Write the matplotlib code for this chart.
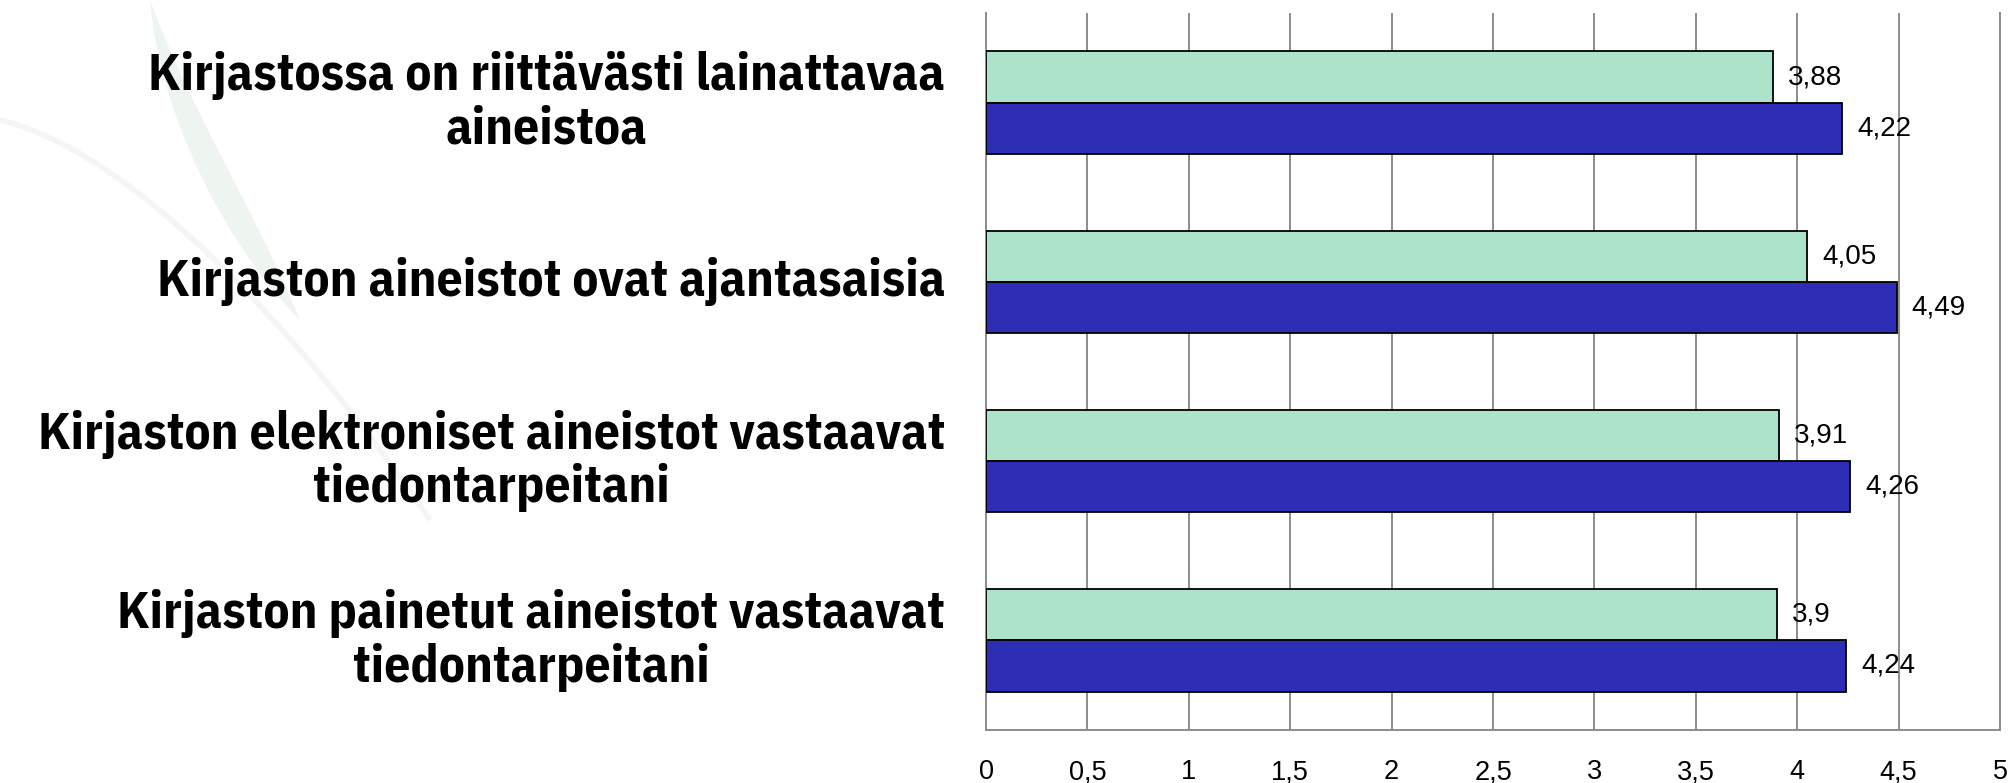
import matplotlib
matplotlib.use("Agg")
import matplotlib.pyplot as plt
from matplotlib import font_manager as fm
from matplotlib.patches import PathPatch
from matplotlib.path import Path
from matplotlib.textpath import TextPath
import numpy as np

categories = [
    "Kirjastossa on riittävästi lainattavaa\naineistoa",
    "Kirjaston aineistot ovat ajantasaisia",
    "Kirjaston elektroniset aineistot vastaavat\ntiedontarpeitani",
    "Kirjaston painetut aineistot vastaavat\ntiedontarpeitani",
]
series_green = [3.88, 4.05, 3.91, 3.90]
series_blue = [4.22, 4.49, 4.26, 4.24]
xticks = [0, 0.5, 1, 1.5, 2, 2.5, 3, 3.5, 4, 4.5, 5]

W, H, DPI = 2011, 783, 100

# choose a condensed bold face whose proportions best match the reference
# (cap height ~35 px, widest line ~936 px)
TARGET_CAP, TARGET_W = 36.0, 936.0
longest = "Kirjaston elektroniset aineistot vastaavat"
candidates = ["Roboto Condensed", "Barlow Semi Condensed", "Fira Sans Condensed",
              "IBM Plex Sans Condensed", "Asap Condensed", "Encode Sans Semi Condensed",
              "Encode Sans Condensed", "Open Sans Condensed"]
best = None
for fam in candidates:
    try:
        fp = fm.FontProperties(family=fam, weight="bold")
        path = fm.findfont(fp, fallback_to_default=False)
    except Exception:
        continue
    if "Bold" not in path.split("/")[-1]:
        continue
    try:
        cap = TextPath((0, 0), "H", size=100, prop=fp).get_extents().height
        wid = TextPath((0, 0), longest, size=100, prop=fp).get_extents().width
    except Exception:
        continue
    size_px = TARGET_CAP / cap * 100
    width_px = wid * size_px / 100
    err = abs(width_px - TARGET_W)
    if best is None or err < best[0]:
        best = (err, fam, size_px)

if best is None:
    label_family, label_px = "Liberation Sans", 49.0
else:
    _, label_family, label_px = best
label_pt = label_px * 72 / DPI

plt.rcParams["font.family"] = ["Liberation Sans", "DejaVu Sans"]

fig = plt.figure(figsize=(W / DPI, H / DPI), dpi=DPI)

# very faint leaf watermark in the background
bg = fig.add_axes([0, 0, 1, 1], zorder=-5)
bg.set_xlim(0, W)
bg.set_ylim(H, 0)
bg.axis("off")
leaf = Path([(150, 0), (190, 110), (260, 220), (300, 320), (230, 250), (160, 120), (150, 0)],
            [Path.MOVETO, Path.CURVE4, Path.CURVE4, Path.CURVE4, Path.CURVE4, Path.CURVE4, Path.CURVE4])
bg.add_patch(PathPatch(leaf, facecolor="#EEF4EF", edgecolor="none"))
stem = Path([(0, 120), (130, 150), (300, 330), (430, 520)],
            [Path.MOVETO, Path.CURVE4, Path.CURVE4, Path.CURVE4])
bg.add_patch(PathPatch(stem, facecolor="none", edgecolor="#F4F6F4", linewidth=4))

ax = fig.add_axes([986 / W, 1 - 730 / H, (2000 - 986) / W, (730 - 13) / H])
ax.patch.set_alpha(0)

y = np.arange(len(categories))
h = 0.2857
green = "#ACE3CA"
blue = "#2E2DB5"
b1 = ax.barh(y - h / 2, series_green, height=h, color=green, edgecolor="black", linewidth=1.3, zorder=3)
b2 = ax.barh(y + h / 2, series_blue, height=h, color=blue, edgecolor="black", linewidth=1.3, zorder=3)

for bars, vals in ((b1, series_green), (b2, series_blue)):
    for rect, v in zip(bars, vals):
        ax.annotate(f"{v:g}".replace(".", ","),
                    xy=(v, rect.get_y() + rect.get_height() / 2),
                    xytext=(11, 0), textcoords="offset points",
                    ha="left", va="center", fontsize=20, color="black", zorder=4)

ax.set_xlim(0, 5)
ax.set_ylim(len(categories) - 0.5, -0.5)
ax.set_xticks(xticks)
ax.set_xticklabels([f"{t:g}".replace(".", ",") for t in xticks], fontsize=19.5)
ax.tick_params(axis="x", length=0, pad=21)
ax.set_yticks([])
ax.grid(axis="x", color="#8C8C8C", linewidth=1.4, zorder=0)
ax.spines["top"].set_visible(False)
for s in ["left", "bottom", "right"]:
    ax.spines[s].set_color("#8C8C8C")
    ax.spines[s].set_linewidth(1.4)

# category labels, right edge at ~945 px
for yi, lab in zip(y, categories):
    ax.annotate(lab, xy=(0, yi), xycoords=("axes fraction", "data"),
                xytext=(945 - 986, 0), textcoords="offset pixels",
                ha="right", va="center", multialignment="center",
                fontsize=label_pt, fontweight="bold", family=[label_family, "DejaVu Sans"],
                linespacing=1.11)

fig.savefig("out.png", dpi=DPI, facecolor="white")
